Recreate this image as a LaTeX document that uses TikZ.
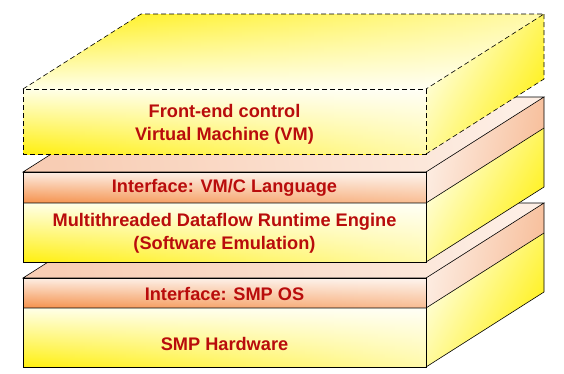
\documentclass[tikz,border=0pt]{standalone}
\usepackage{fontspec}
\setmainfont{Liberation Sans}
\usetikzlibrary{fadings}
\definecolor{txt}{RGB}{185,12,12}
\definecolor{ylw}{RGB}{255,240,15}
\definecolor{ylwl}{RGB}{255,255,232}
\definecolor{org}{RGB}{245,145,75}
\definecolor{orgl}{RGB}{253,238,228}
\definecolor{pnk}{RGB}{248,205,180}
\tikzfading[name=fadeleft, left color=transparent!100, right color=transparent!35]
\tikzfading[name=fadeleftsoft, left color=transparent!100, right color=transparent!60]
\begin{document}
\begin{tikzpicture}[x=1pt,y=-1pt,
  edge/.style={draw=black,line width=0.6pt,line join=miter},
  dashedge/.style={draw=black,line width=0.6pt,dash pattern=on 5pt off 3pt},
  yfront/.style={top color=ylwl,bottom color=ylw},
  yside/.style={left color=ylwl,right color=ylw,shading angle=60},
  ytop/.style={top color=ylw,bottom color=ylwl},
  ofront/.style={top color=orgl,bottom color=org},
  oside/.style={left color=orgl,right color=pnk!75!org,shading angle=80},
  otop/.style={left color=pnk,right color=orgl,shading angle=100},
  paler/.style={fill=white,path fading=fadeleft},
  palersoft/.style={fill=white,path fading=fadeleftsoft},
  lbl/.style={text=txt,font=\bfseries\fontsize{18.2}{23}\selectfont,align=center}]
\useasboundingbox (0,0) rectangle (564,373);
% ---------- lower box ----------
\path[otop] (23,278) -- (141,203) -- (544,203) -- (426,278) -- cycle;
\path[oside] (426,278) -- (544,203) -- (544,233) -- (426,308) -- cycle;
\path[yside] (426,308) -- (544,233) -- (544,292) -- (426,367) -- cycle;
\path[ofront] (23,278) rectangle (426,308);
\path[palersoft] (23,278) rectangle (426,308);
\path[yfront] (23,308) rectangle (426,367);
\path[paler] (23,308) rectangle (426,367);
\draw[edge] (23,278) -- (141,203) -- (544,203) -- (426,278) -- cycle;
\draw[edge] (426,278) rectangle (23,367);
\draw[edge] (23,308) -- (426,308) -- (544,233);
\draw[edge] (544,203) -- (544,292) -- (426,367);
% ---------- middle box ----------
\path[otop] (23,172) -- (141,97) -- (544,97) -- (426,172) -- cycle;
\path[oside] (426,172) -- (544,97) -- (544,128) -- (426,203) -- cycle;
\path[yside] (426,203) -- (544,128) -- (544,187) -- (426,262) -- cycle;
\path[ofront] (23,172) rectangle (426,203);
\path[palersoft] (23,172) rectangle (426,203);
\path[yfront] (23,203) rectangle (426,262);
\path[paler] (23,203) rectangle (426,262);
\draw[edge] (23,172) -- (141,97) -- (544,97) -- (426,172) -- cycle;
\draw[edge] (426,172) rectangle (23,262);
\draw[edge] (23,203) -- (426,203) -- (544,128);
\draw[edge] (544,97) -- (544,187) -- (426,262);
% ---------- top box (dashed) ----------
\path[ytop] (23,89) -- (141,14) -- (544,14) -- (426,89) -- cycle;
\path[paler] (23,89) -- (141,14) -- (544,14) -- (426,89) -- cycle;
\path[yside] (426,89) -- (544,14) -- (544,79) -- (426,154) -- cycle;
\path[yfront] (23,89) rectangle (426,154);
\path[paler] (23,89) rectangle (426,154);
\draw[dashedge] (23,89) -- (141,14) -- (544,14) -- (426,89);
\draw[dashedge] (23,89) rectangle (426,154);
\draw[dashedge] (544,14) -- (544,79) -- (426,154);
% ---------- labels ----------
\node[lbl] (vm) at (224.5,124.5) {Front-end control\\Virtual Machine (VM)};
\node[lbl] (ifc) at (224.5,187.5) {Interface: VM/C Language};
\node[lbl] (mdre) at (224.5,233) {Multithreaded Dataflow Runtime Engine\\(Software Emulation)};
\node[lbl] (ifo) at (224.5,294) {Interface: SMP OS};
\node[lbl] (hw) at (224.5,344) {SMP Hardware};
\end{tikzpicture}
\end{document}
